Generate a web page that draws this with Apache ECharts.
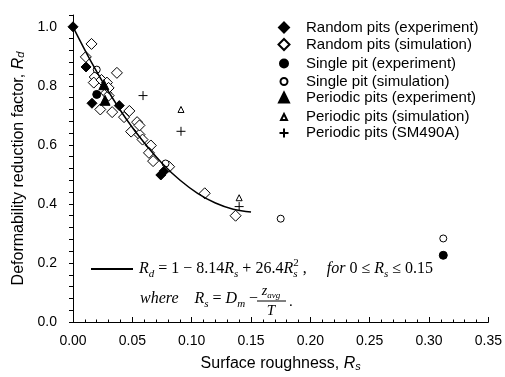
<!DOCTYPE html>
<html>
<head>
<meta charset="utf-8">
<script src="https://cdn.jsdelivr.net/npm/echarts@6/dist/echarts.min.js"></script>
<style>html,body{margin:0;padding:0;background:#fff}#c{width:505px;height:377px}</style>
</head>
<body>
<div id="c"></div>
<script>
// ---- data ----
const randExpX = [0, 0.011, 0.016, 0.039, 0.074, 0.077];
const randExpY = [1.0, 0.864, 0.741, 0.733, 0.498, 0.512];

const randSimX = [0.0156, 0.0108, 0.037, 0.0183, 0.0175, 0.024, 0.0286, 0.028, 0.030, 0.030, 0.023, 0.033, 0.0475, 0.043, 0.054, 0.049, 0.056, 0.056, 0.0586, 0.0656, 0.064, 0.0675, 0.081, 0.111, 0.137];
const randSimY = [0.942, 0.898, 0.844, 0.830, 0.811, 0.820, 0.811, 0.776, 0.767, 0.793, 0.720, 0.711, 0.715, 0.694, 0.677, 0.645, 0.635, 0.666, 0.618, 0.598, 0.573, 0.545, 0.526, 0.436, 0.360];

const singleExpX = [0.020, 0.312];
const singleExpY = [0.771, 0.226];

const singleSimX = [0.020, 0.078, 0.175, 0.312];
const singleSimY = [0.855, 0.537, 0.350, 0.283];

const perExpX = [0.026, 0.027];
const perExpY = [0.804, 0.751];

const perSimX = [0.091, 0.140];
const perSimY = [0.720, 0.421];

const smX = [0.059, 0.091, 0.140];
const smY = [0.767, 0.646, 0.391];

const fitX = [0, 0.015, 0.03, 0.045, 0.06, 0.075, 0.09, 0.105, 0.12, 0.135, 0.15];
const fitY = [1.0, 0.884, 0.780, 0.687, 0.607, 0.538, 0.481, 0.436, 0.403, 0.382, 0.373];

const xTicks = { min: 0, max: 0.35, interval: 0.05 };
const yTicks = { min: 0, max: 1.04, interval: 0.04, labelStep: 0.2 };

const names = ['Random pits (experiment)', 'Random pits (simulation)', 'Single pit (experiment)',
  'Single pit (simulation)', 'Periodic pits (experiment)', 'Periodic pits (simulation)', 'Periodic pits (SM490A)'];

// ---- build ----
const zip = (a, b) => a.map((v, i) => [v, b[i]]);
const PLUS = 'path://M0,5L10,5M5,0L5,10';

const styles = [
  { symbol: 'diamond', size: 10, fill: '#000' },
  { symbol: 'diamond', size: 11, fill: '#fff' },
  { symbol: 'circle', size: 8, fill: '#000' },
  { symbol: 'circle', size: 7, fill: '#fff' },
  { symbol: 'triangle', size: 10, fill: '#000' },
  { symbol: 'triangle', size: 6, fill: '#fff' },
  { symbol: PLUS, size: 9, fill: '#000' }
];
const dataSets = [
  zip(randExpX, randExpY), zip(randSimX, randSimY), zip(singleExpX, singleExpY),
  zip(singleSimX, singleSimY), zip(perExpX, perExpY), zip(perSimX, perSimY), zip(smX, smY)
];

const series = dataSets.map((d, i) => ({
  type: 'scatter', name: names[i], data: d,
  symbol: styles[i].symbol, symbolSize: styles[i].size,
  itemStyle: { color: styles[i].fill, borderColor: '#000', borderWidth: 1, opacity: 1 },
  emphasis: { disabled: true }, z: 2
}));
series.push({
  type: 'line', name: 'fit', data: zip(fitX, fitY), smooth: 0.4, showSymbol: false, symbol: 'none',
  lineStyle: { color: '#000', width: 1.5 }, z: 3, silent: true
});

const iconX = 283, textX = 305;
const rowY = [25, 42.5, 60, 77.5, 95, 112.5, 130];
const legends = names.map((n, i) => {
  const s = styles[i].size;
  return {
    data: [n], orient: 'vertical', left: iconX - s / 2, top: rowY[i] - s / 2,
    padding: 0, itemWidth: s, itemHeight: s, itemGap: 0,
    selectedMode: false,
    textStyle: { fontFamily: 'Liberation Sans, Arial', fontSize: 15, color: '#000',
      padding: [0, 0, 0, textX - (iconX + s / 2 + 5)] }
  };
});

const serif = 'Liberation Serif, Times New Roman';
const rich = {
  i: { fontStyle: 'italic', fontFamily: serif, fontSize: 16, lineHeight: 22 },
  sub: { fontStyle: 'italic', fontFamily: serif, fontSize: 11, lineHeight: 12, verticalAlign: 'bottom' },
  subz: { fontStyle: 'italic', fontFamily: serif, fontSize: 11, lineHeight: 12, verticalAlign: 'bottom', width: 0.1 },
  sup: { fontFamily: serif, fontSize: 11, lineHeight: 12, verticalAlign: 'top' },
  n: { fontFamily: serif, fontSize: 16, lineHeight: 22 }
};

const sans = 'Liberation Sans, Arial';
const nameRich = {
  i: { fontStyle: 'italic', fontFamily: sans, fontSize: 16 },
  s: { fontStyle: 'italic', fontFamily: sans, fontSize: 11, verticalAlign: 'bottom', lineHeight: 10 }
};

const chart = echarts.init(document.getElementById('c'), null, { renderer: 'canvas' });
chart.setOption({
  animation: false,
  backgroundColor: '#fff',
  grid: { left: 73, right: 14, top: 15, bottom: 54, containLabel: false },
  legend: legends,
  xAxis: {
    type: 'value', min: xTicks.min, max: xTicks.max, interval: xTicks.interval,
    name: 'Surface roughness, {i|R}{s|s}', nameLocation: 'middle', nameGap: 34,
    nameTextStyle: { fontFamily: sans, fontSize: 16, color: '#000', rich: nameRich },
    axisLine: { lineStyle: { color: '#000', width: 1 } },
    axisTick: { inside: true, length: 5, lineStyle: { color: '#000' } },
    minorTick: { show: true, splitNumber: 5, length: 2.5, lineStyle: { color: '#000' } },
    axisLabel: { fontFamily: sans, fontSize: 14, color: '#000', margin: 12,
      formatter: v => v.toFixed(2) },
    splitLine: { show: false }
  },
  yAxis: {
    type: 'value', min: yTicks.min, max: yTicks.max, interval: yTicks.interval,
    name: 'Deformability reduction factor, {i|R}{s|d}', nameLocation: 'middle', nameGap: 35,
    nameTextStyle: { fontFamily: sans, fontSize: 16, color: '#000', rich: nameRich },
    axisLine: { show: true, lineStyle: { color: '#000', width: 1 } },
    axisTick: { show: true, inside: false, length: 4, lineStyle: { color: '#000' } },
    axisLabel: { fontFamily: sans, fontSize: 14, color: '#000', margin: 16,
      showMaxLabel: true,
      formatter: v => {
        const k = v / yTicks.labelStep;
        return Math.abs(k - Math.round(k)) < 1e-6 ? v.toFixed(1) : '';
      } },
    splitLine: { show: false }
  },
  graphic: [
    { type: 'line', shape: { x1: 91, y1: 269, x2: 133, y2: 269 }, style: { stroke: '#000', lineWidth: 2 }, silent: true },
    { type: 'text', x: 139, y: 269, silent: true, style: {
      text: '{i|R}{sub|d}{n| = 1 − 8.14}{i|R}{sub|s}{n| + 26.4}{i|R}{subz|s}{sup|2}{n| ,     }{i|for}{n| 0 ≤ }{i|R}{sub|s}{n| ≤ 0.15}',
      rich: rich, verticalAlign: 'middle', fill: '#000', font: '16px ' + serif } },
    { type: 'text', x: 140, y: 299, silent: true, style: {
      text: '{i|where}{n|    }{i|R}{sub|s}{n| = }{i|D}{sub|m}{n| −}',
      rich: rich, verticalAlign: 'middle', fill: '#000', font: '16px ' + serif } },
    { type: 'text', x: 271, y: 291, silent: true, style: {
      text: '{i|z}{sub|avg}', rich: { i: { fontStyle: 'italic', fontFamily: serif, fontSize: 14, lineHeight: 18 },
        sub: { fontStyle: 'italic', fontFamily: serif, fontSize: 9, lineHeight: 10, verticalAlign: 'bottom' } },
      align: 'center', verticalAlign: 'middle', fill: '#000' } },
    { type: 'line', shape: { x1: 257, y1: 301, x2: 286, y2: 301 }, style: { stroke: '#000', lineWidth: 1 }, silent: true },
    { type: 'text', x: 271, y: 311, silent: true, style: {
      text: 'T', font: 'italic 15px ' + serif, align: 'center', verticalAlign: 'middle', fill: '#000' } },
    { type: 'text', x: 289, y: 302, silent: true, style: {
      text: '.', font: '15px ' + serif, verticalAlign: 'middle', fill: '#000' } }
  ],
  series: series
});
</script>
</body>
</html>
